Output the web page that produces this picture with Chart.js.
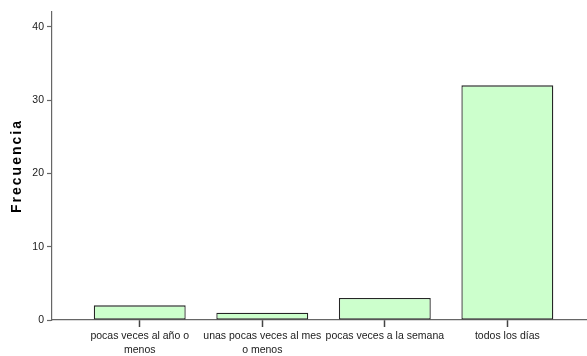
<!DOCTYPE html>
<html>
<head>
<meta charset="utf-8">
<script src="https://cdn.jsdelivr.net/npm/chart.js@4/dist/chart.umd.min.js"></script>
<style>
  html, body { margin: 0; padding: 0; background: #ffffff; }
  #wrap { width: 587px; height: 356px; }
</style>
</head>
<body>
<div id="wrap"><canvas id="chart" width="587" height="356"></canvas></div>
<script>
// Category labels (each entry is a list of lines)
const categorias = [
  ['pocas veces al año o', 'menos'],
  ['unas pocas veces al mes', 'o menos'],
  ['pocas veces a la semana'],
  ['todos los días']
];
// Frequency for each category
const frecuencias = [2, 1, 3, 32];
// Y axis ticks
const yTicks = [0, 10, 20, 30, 40];
const yMax = 42;
const tituloY = 'Frecuencia';

const fuente = '"Liberation Sans", Arial, Helvetica, sans-serif';
const colorEje = '#666666';
const colorTexto = '#1a1a1a';

// Widen letter spacing of the y axis title only
const tituloEspaciado = {
  id: 'tituloEspaciado',
  beforeDraw(chart) {
    const s = chart.scales.y;
    if (s && !s._espaciado) {
      const original = s.drawTitle;
      s.drawTitle = function () {
        const ctx = this.ctx;
        ctx.save();
        ctx.letterSpacing = '2px';
        original.apply(this, arguments);
        ctx.restore();
      };
      s._espaciado = true;
    }
  }
};

new Chart(document.getElementById('chart'), {
  type: 'bar',
  data: {
    datasets: [{
      data: frecuencias.map((v, i) => ({ x: i, y: v })),
      backgroundColor: '#ccffcc',
      borderColor: '#262626',
      borderWidth: 1.3,
      borderSkipped: false,
      barPercentage: 0.75,
      categoryPercentage: 1.0
    }]
  },
  options: {
    responsive: false,
    animation: false,
    devicePixelRatio: 1,
    layout: { padding: { top: 12, right: 0, left: 0, bottom: 0 } },
    plugins: {
      legend: { display: false },
      tooltip: { enabled: false }
    },
    scales: {
      x: {
        type: 'linear',
        offset: false,
        min: -0.716,
        max: 3.65,
        afterBuildTicks(scale) {
          scale.ticks = categorias.map((c, i) => ({ value: i }));
        },
        afterFit(scale) { scale.height = 36; },
        grid: {
          display: true,
          offset: false,
          drawOnChartArea: false,
          drawTicks: true,
          tickLength: 7,
          tickColor: '#444444',
          tickWidth: 1.5
        },
        border: { display: true, color: colorEje, width: 1.2 },
        ticks: {
          autoSkip: false,
          maxRotation: 0,
          minRotation: 0,
          padding: 3,
          color: colorTexto,
          font: { family: fuente, size: 10.5, lineHeight: 1.25 },
          callback(value, index) { return categorias[index]; }
        }
      },
      y: {
        min: 0,
        max: yMax,
        afterBuildTicks(scale) {
          scale.ticks = yTicks.map(v => ({ value: v }));
        },
        afterFit(scale) { scale.width = 52; },
        grid: {
          display: true,
          drawOnChartArea: false,
          drawTicks: true,
          tickLength: 5,
          tickColor: colorEje,
          tickWidth: 1.2
        },
        border: { display: true, color: colorEje, width: 1.2 },
        ticks: {
          padding: 3,
          color: colorTexto,
          font: { family: fuente, size: 10.5 }
        },
        title: {
          display: true,
          text: tituloY,
          color: '#000000',
          padding: { top: 9, bottom: 0 },
          font: { family: fuente, size: 14, weight: 'bold', lineHeight: 1.2 }
        }
      }
    }
  },
  plugins: [tituloEspaciado]
});
</script>
</body>
</html>
